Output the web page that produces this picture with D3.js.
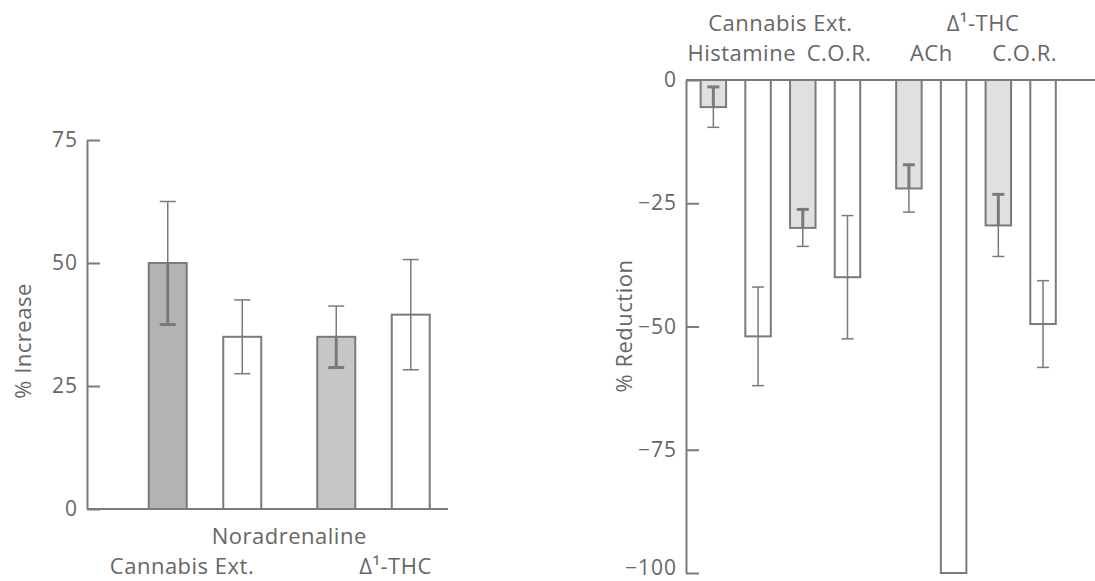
<!DOCTYPE html>
<html>
<head>
<meta charset="utf-8">
<script src="https://cdn.jsdelivr.net/npm/d3@7"></script>
<style>
  body { margin: 0; background: #fff; }
  svg { display: block; }
  text { font-family: "Open Sans", "Lato", sans-serif; fill: #666; }
  .lbl { font-size: 22px; letter-spacing: 0.5px; }
</style>
</head>
<body>
<svg id="chart" width="1095" height="581"></svg>
<script>
// left panel: noradrenaline, % increase
var leftGroups = ["Cannabis Ext.", "Δ¹-THC"];
var leftKinds = ["shaded", "open"];
var leftValues = [[50, 35], [35, 39.5]];
var leftErrors = [[12.5, 7.5], [6.25, 11.2]];
var leftTicks = [0, 25, 50, 75];

// right panel: % reduction
var rightGroups = ["Cannabis Ext.", "Δ¹-THC"];
var rightAgonists = [["Histamine", "C.O.R."], ["ACh", "C.O.R."]];
var rightKinds = ["shaded", "open", "shaded", "open"];
var rightValues = [[-5.5, -52, -30, -40], [-22, -100, -29.5, -49.5]];
var rightErrors = [[4.1, 10, 3.75, 12.5], [4.8, 0, 6.3, 8.8]];
var rightTicks = [0, -25, -50, -75, -100];

var svg = d3.select("#chart");
var lineCol = "#7a7a7a";

function drawErr(g, cx, v, e, cap, shaded, y) {
  if (!e) return;
  // part of the error bar lying inside the bar (towards zero) is drawn heavier on shaded bars
  var inner = v > 0 ? v - e : v + e;
  var outer = v > 0 ? v + e : v - e;
  var wIn = shaded ? 3 : 1.5;
  g.append("line").attr("x1", cx).attr("x2", cx).attr("y1", y(v)).attr("y2", y(inner))
    .attr("stroke", lineCol).attr("stroke-width", wIn);
  g.append("line").attr("x1", cx - cap / 2).attr("x2", cx + cap / 2).attr("y1", y(inner)).attr("y2", y(inner))
    .attr("stroke", lineCol).attr("stroke-width", wIn);
  g.append("line").attr("x1", cx).attr("x2", cx).attr("y1", y(v)).attr("y2", y(outer))
    .attr("stroke", lineCol).attr("stroke-width", 1.5);
  g.append("line").attr("x1", cx - cap / 2).attr("x2", cx + cap / 2).attr("y1", y(outer)).attr("y2", y(outer))
    .attr("stroke", lineCol).attr("stroke-width", 1.5);
}

function styleAxis(a) {
  a.select(".domain").attr("stroke", lineCol).attr("stroke-width", 2);
  a.selectAll(".tick line").attr("stroke", lineCol).attr("stroke-width", 2);
  a.selectAll(".tick text").style("font-size", "21px").style("letter-spacing", "1px")
    .attr("fill", "#666").attr("font-family", null);
}

// ---------- left panel ----------
var yL = d3.scaleLinear().domain([0, 75]).range([509, 140]);
var xL = d3.scaleBand().domain(leftGroups).range([130.5, 448]).paddingInner(0.1157);
var xLi = d3.scaleBand().domain(leftKinds).range([0, xL.bandwidth()]).paddingInner(0.49).paddingOuter(0.245);
var left = svg.append("g");

left.append("g")
  .attr("transform", "translate(87,0)")
  .call(d3.axisLeft(yL).tickValues(leftTicks).tickSizeInner(-13).tickSizeOuter(0).tickPadding(9))
  .call(styleAxis);

leftGroups.forEach(function(grp, gi) {
  leftKinds.forEach(function(k, ki) {
    var v = leftValues[gi][ki];
    var x0 = xL(grp) + xLi(k);
    left.append("rect")
      .attr("x", x0).attr("y", yL(v))
      .attr("width", xLi.bandwidth()).attr("height", yL(0) - yL(v))
      .attr("fill", k === "shaded" ? (gi === 0 ? "#b3b3b3" : "#c6c6c6") : "#fff")
      .attr("stroke", lineCol).attr("stroke-width", 2);
    drawErr(left, x0 + xLi.bandwidth() / 2, v, leftErrors[gi][ki], 16, k === "shaded", yL);
  });
});

left.append("line").attr("x1", 87).attr("x2", 448).attr("y1", yL(0)).attr("y2", yL(0))
  .attr("stroke", lineCol).attr("stroke-width", 2);

left.append("text").attr("class", "lbl").attr("x", (xL.range()[0] + xL.range()[1]) / 2).attr("y", 544)
  .attr("text-anchor", "middle").text("Noradrenaline");
var leftLabelShift = [-23, 22];
leftGroups.forEach(function(grp, gi) {
  left.append("text").attr("class", "lbl").attr("x", xL(grp) + xL.bandwidth() / 2 + leftLabelShift[gi]).attr("y", 574)
    .attr("text-anchor", "middle").text(grp);
});
left.append("text").attr("class", "lbl").attr("transform", "translate(31,341) rotate(-90)")
  .attr("text-anchor", "middle").text("% Increase");

// ---------- right panel ----------
var yR = d3.scaleLinear().domain([0, -100]).range([80, 573]);
var xR = d3.scaleBand().domain(rightGroups).range([691, 1065.4]).paddingInner(0.0854);
var barIdx = [0, 1, 2, 3];
var xRi = d3.scaleBand().domain(barIdx).range([0, xR.bandwidth()]).paddingInner(0.43).paddingOuter(0.215);
var right = svg.append("g");

right.append("g")
  .attr("transform", "translate(686,0)")
  .call(d3.axisLeft(yR).tickValues(rightTicks).tickSizeInner(-13).tickSizeOuter(0).tickPadding(9))
  .call(styleAxis)
  .call(function(a) {
    // keep the bottom label inside the frame
    a.selectAll(".tick text").filter(function(d) { return d === -100; }).attr("dy", "0.06em");
  });

rightGroups.forEach(function(grp, gi) {
  barIdx.forEach(function(bi) {
    var v = rightValues[gi][bi];
    var shaded = rightKinds[bi] === "shaded";
    var x0 = xR(grp) + xRi(bi);
    right.append("rect")
      .attr("x", x0).attr("y", yR(0))
      .attr("width", xRi.bandwidth()).attr("height", yR(v) - yR(0))
      .attr("fill", shaded ? "#e0e0e0" : "#fff")
      .attr("stroke", lineCol).attr("stroke-width", 2);
    drawErr(right, x0 + xRi.bandwidth() / 2, v, rightErrors[gi][bi], 12, shaded, yR);
  });
});

right.append("line").attr("x1", 686).attr("x2", 1095).attr("y1", yR(0)).attr("y2", yR(0))
  .attr("stroke", lineCol).attr("stroke-width", 2);

var rightTitleShift = [0, 7];
var agonistShift = [[6, 14], [0, 4]];
rightGroups.forEach(function(grp, gi) {
  right.append("text").attr("class", "lbl").attr("x", xR(grp) + xR.bandwidth() / 2 + rightTitleShift[gi]).attr("y", 31)
    .attr("text-anchor", "middle").text(grp);
  rightAgonists[gi].forEach(function(ag, ai) {
    var cx = xR(grp) + (xRi(ai * 2) + xRi(ai * 2 + 1) + xRi.bandwidth()) / 2;
    right.append("text").attr("class", "lbl").attr("x", cx + agonistShift[gi][ai]).attr("y", 61)
      .attr("text-anchor", "middle").text(ag);
  });
});
right.append("text").attr("class", "lbl").attr("transform", "translate(632,326) rotate(-90)")
  .attr("text-anchor", "middle").text("% Reduction");
</script>
</body>
</html>
